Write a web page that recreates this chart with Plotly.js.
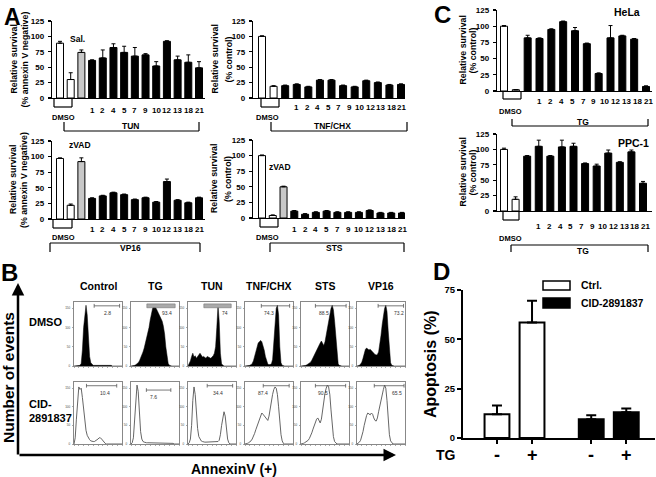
<!DOCTYPE html>
<html><head><meta charset="utf-8">
<script src="https://cdn.plot.ly/plotly-3.0.1.min.js"></script>
<style>html,body{margin:0;padding:0;background:#fff}#chart{width:656px;height:477px}</style>
</head><body><div id="chart"></div>
<script>
// ================= DATA =================
// Panel A / C: compound numbers under the bars
const compoundLabels = ['1','2','4','5','7','9','10','12','13','18','21'];
// Panel A (relative survival, %)
const tunValues  = [89,30,74,61,65,82,74,68,70,52,92,62,58,49];
const tunErrors  = [3,11,4,1,13,6,10,14,2,7,1,6,12,10];
const tnfValues  = [100,19,20,22,18,29,29,20,18,28,25,21,22];
const tnfErrors  = [1,1,1,1,1,1,1,1,1,1,1,1,1];
const vp16Values = [97,22,92,33,37,42,39,31,34,27,60,30,26,34];
const vp16Errors = [1,2,6,1,1,1,1,1,1,1,4,1,1,1];
const stsValues  = [100,4,50,11,6,9,11,9,9,9,12,8,8,8];
const stsErrors  = [1,1,1,1,1,1,1,1,1,1,1,1,1,1];
// Panel C
const helaValues = [100,2,82,81,95,107,93,73,27,82,85,80,7];
const helaErrors = [1,0,4,1,1,1,5,1,1,19,1,1,1];
const ppcValues  = [100,19,89,105,89,104,105,77,73,94,79,96,45];
const ppcErrors  = [2,4,1,10,1,11,5,1,3,5,1,3,3];
// Panel B: flow cytometry (AnnexinV histograms, relative counts, 41 bins)
const bTreatments = ['Control','TG','TUN','TNF/CHX','STS','VP16'];
const dmsoPercent = [2.8, 93.4, 74, 74.3, 88.5, 73.2];
const cidPercent  = [10.4, 7.6, 34.4, 87.4, 90.5, 65.5];
const histDmsoControl = [0,0,0,0,0,1,4,25,60,85,95,80,45,15,5,2,1,1,1,1,1,1,1,2,2,2,1,1,1,1,1,1,0,0,0,0,0,0,0,0,0];
const histDmsoTG      = [0,0,0,1,2,3,5,8,12,17,22,28,35,42,50,60,72,82,90,95,93,90,86,82,80,75,70,62,50,30,12,4,1,0,0,0,0,0,0,0,0];
const histDmsoTUN     = [0,3,8,15,20,14,16,12,15,18,20,17,14,15,13,12,15,14,13,12,14,16,20,30,60,95,70,20,3,1,0,0,0,0,0,0,0,0,0,0,0];
const histDmsoTNF     = [0,0,0,0,1,2,4,8,15,25,32,36,38,40,38,33,25,15,7,3,2,2,3,10,35,70,90,95,80,30,5,1,0,0,0,0,0,0,0,0,0];
const histDmsoSTS     = [0,0,0,0,1,2,3,4,6,9,13,17,22,25,28,32,36,39,34,32,38,48,60,72,82,90,95,88,70,45,15,3,1,0,0,0,0,0,0,0,0];
const histDmsoVP16    = [0,0,1,3,6,12,20,26,28,27,25,26,24,21,19,18,17,18,22,32,48,65,80,90,95,85,55,20,5,1,0,0,0,0,0,0,0,0,0,0,0];
const histCidControl  = [0,10,40,75,92,88,90,75,55,35,22,14,10,7,5,4,4,4,5,6,8,10,10,8,5,2,1,0,0,0,0,0,0,0,0,0,0,0,0,0,0];
const histCidTG       = [0,2,10,40,80,95,85,50,20,8,4,3,2,2,2,2,2,2,2,2,2,2,2,2,2,2,2,2,2,2,2,1,1,1,1,1,0,0,0,0,0];
const histCidTUN      = [0,2,8,30,70,92,80,50,25,12,7,5,4,3,3,3,3,3,3,3,3,3,3,3,3,4,6,15,30,45,52,45,25,8,2,0,0,0,0,0,0];
const histCidTNF      = [0,0,1,2,3,5,8,12,17,23,29,35,41,46,50,48,45,42,40,38,45,58,70,80,88,92,90,80,60,35,15,5,1,0,0,0,0,0,0,0,0];
const histCidSTS      = [0,0,1,2,3,4,6,9,13,18,24,30,36,40,42,38,34,40,55,70,82,90,95,92,80,55,30,12,4,1,0,0,0,0,0,0,0,0,0,0,0];
const histCidVP16     = [0,1,3,6,12,20,30,40,46,50,48,47,50,48,42,38,37,42,52,62,72,80,88,95,90,70,40,15,5,2,0,0,0,0,0,0,0,0,0,0,0];
// Panel D: apoptosis (%)
const tgLabels = ['-','+'];
const dSeriesNames = ['Ctrl.','CID-2891837'];
const ctrlApoptosis = [12, 58.5];
const ctrlErrors    = [4.5, 11];
const cidApoptosis  = [9.5, 13];
const cidErrors     = [2, 2];

// ================= HELPERS =================
const W=656,H=477;
const F='Liberation Sans, Arial, Helvetica, sans-serif';
const fx=p=>p/W, fy=p=>1-p/H;
const layout={width:W,height:H,margin:{l:0,r:0,t:0,b:0},paper_bgcolor:'#fff',plot_bgcolor:'rgba(0,0,0,0)',showlegend:false,font:{family:F,color:'#000'}};
const traces=[], annotations=[], shapes=[];
let axN=0;
function addAxes(x0,x1,yt,yb,xo,yo){
  axN++; const s=axN===1?'':String(axN);
  layout['xaxis'+s]=Object.assign({domain:[fx(x0),fx(x1)],anchor:'y'+s,fixedrange:true,showgrid:false,zeroline:false},xo);
  layout['yaxis'+s]=Object.assign({domain:[fy(yb),fy(yt)],anchor:'x'+s,fixedrange:true,showgrid:false,zeroline:false},yo);
  return {x:'x'+s,y:'y'+s};
}
function txt(x,y,t,size,o={}){annotations.push(Object.assign({xref:'paper',yref:'paper',x:fx(x),y:fy(y),text:'<b>'+t+'</b>',showarrow:false,font:{family:F,size:size,color:'#000'},xanchor:'center',yanchor:'middle'},o));}
function seg(x0,y0,x1,y1,w){shapes.push({type:'line',xref:'paper',yref:'paper',x0:fx(x0),y0:fy(y0),x1:fx(x1),y1:fy(y1),line:{color:'#000',width:w||1.2}});}
function cup(xa,xb,yt,yb){seg(xa,yt,xa,yb);seg(xa,yb,xb,yb);seg(xb,yb,xb,yt);}
function capB(xa,xb,yt,yb){seg(xa,yb,xa,yt);seg(xa,yt,xb,yt);seg(xb,yt,xb,yb);}

// ================= PANEL A / C bars =================
function barPanel(vals,errs,o){
  const n=vals.length, unit=(o.last-o.first)/(n-1);
  const range=[-(o.first-o.x0)/unit,(n-1)+(o.x1-o.last)/unit];
  const ax=addAxes(o.x0,o.x1,o.yt,o.yb,
    {range:range,showline:true,linewidth:1.3,linecolor:'#000',showticklabels:false,ticks:''},
    {range:[0,125],tickvals:[0,25,50,75,100,125],ticks:'outside',ticklen:3,tickwidth:1.3,tickcolor:'#000',showline:true,linewidth:1.3,linecolor:'#000',tickfont:{family:F,size:8,color:'#000',weight:'bold'},ticklabelstandoff:2});
  const colors=vals.map((v,i)=>i<2?'#fff':(i===2&&o.gray)?'#c8c8c8':'#000');
  traces.push({type:'bar',x:vals.map((v,i)=>i),y:vals,width:7/unit,
    marker:{color:colors,line:{color:'#000',width:1}},
    error_y:{type:'data',symmetric:false,array:errs,arrayminus:errs.map(()=>0),color:'#000',thickness:1,width:2},
    xaxis:ax.x,yaxis:ax.y,hoverinfo:'skip'});
  const m=compoundLabels.length;
  compoundLabels.forEach((t,k)=>{
    annotations.push({xref:ax.x,yref:'paper',x:o.lf+k*(o.ll-o.lf)/(m-1),y:fy(o.labY),text:'<b>'+t+'</b>',showarrow:false,font:{family:F,size:8,color:'#000'},xanchor:'center',yanchor:'middle'});
  });
  // y titles
  txt(o.tx1,(o.yt+o.yb)/2,'Relative survival',8.8,{textangle:-90});
  txt(o.tx2,(o.yt+o.yb)/2,o.sub,8.8,{textangle:-90});
}
barPanel(tunValues,tunErrors,{x0:52,x1:205,yt:21,yb:98,first:60,last:199,gray:true,lf:3,ll:13,labY:110,tx1:13,tx2:24,sub:'(% annexin V negative)'});
cup(54,72,98,107); txt(63,118,'DMSO',7.5); cup(64,199,122,131); txt(130,126,'TUN',8.5); txt(77,39,'Sal.',8.5);
barPanel(tnfValues,tnfErrors,{x0:253,x1:405,yt:21,yb:98,first:262,last:401,gray:false,lf:3,ll:12.06,labY:108,tx1:214,tx2:228,sub:'(% control)'});
cup(261,279,98,107); txt(267,118,'DMSO',7.5); cup(271,407,122,131); txt(332,126,'TNF/CHX',8.5);
barPanel(vp16Values,vp16Errors,{x0:52,x1:205,yt:141,yb:219,first:60,last:199,gray:true,lf:3,ll:13,labY:230,tx1:13,tx2:24,sub:'(% annexin V negative)'});
cup(53,72,219,228); txt(63,237,'DMSO',7.5); capB(50,200,243,252); txt(130,248,'VP16',8.5); txt(80,145,'zVAD',8.5);
barPanel(stsValues,stsErrors,{x0:253,x1:405,yt:140,yb:218,first:262,last:402,gray:true,lf:3,ll:13,labY:229,tx1:214,tx2:228,sub:'(% control)'});
cup(260,278,218,227); txt(267,237,'DMSO',7.5); capB(270,404,243,252); txt(335,248,'STS',8.5); txt(280,167,'zVAD',8.5);
barPanel(helaValues,helaErrors,{x0:497,x1:652,yt:10,yb:91,first:504,last:646,gray:false,lf:3,ll:12.2,labY:101,tx1:462,tx2:472,sub:'(% control)'});
cup(503,521,91,99); txt(510,112,'DMSO',7.5); cup(512,648,119,126); txt(583,122,'TG',8.5); txt(627,12,'HeLa',10.5);
barPanel(ppcValues,ppcErrors,{x0:497,x1:652,yt:134,yb:211,first:504,last:643,gray:false,lf:3,ll:12.2,labY:227,tx1:462,tx2:472,sub:'(% control)'});
cup(503,519,211,220); txt(510,238,'DMSO',7.5); capB(511,648,245,252); txt(583,251,'TG',8.5); txt(633,143,'PPC-1',10.5);

// ================= PANEL B histograms =================
const binX=histDmsoControl.map((v,i)=>i/40);
const dmsoHists=[histDmsoControl,histDmsoTG,histDmsoTUN,histDmsoTNF,histDmsoSTS,histDmsoVP16];
const cidHists=[histCidControl,histCidTG,histCidTUN,histCidTNF,histCidSTS,histCidVP16];
const boxLeft=[74,131,188,245,301,357], boxW=48;
const gateTop=[[0.42,0.95,0.69],[0.33,0.92,0.74],[0.33,0.90,0.78],[0.34,0.93,0.49],[0.30,0.94,0.48],[0.44,0.97,0.88]];
const gateBot=[[0.26,0.89,0.65],[0.32,0.83,0.46],[0.40,0.93,0.62],[0.38,0.92,0.38],[0.30,0.93,0.45],[0.36,0.98,0.83]];
function histPanel(h,x0,yt,yb,filled,pct,gate,gy,grayBar){
  const ax=addAxes(x0,x0+boxW,yt,yb,
    {range:[0,1],showline:true,mirror:true,linewidth:0.7,linecolor:'#555',ticks:'outside',ticklen:1.5,tickwidth:0.5,tickcolor:'#555',dtick:0.1,showticklabels:false},
    {range:[0,100],showline:true,mirror:true,linewidth:0.7,linecolor:'#555',ticks:'outside',ticklen:1.5,tickwidth:0.5,tickcolor:'#555',tickvals:[0,30,60,90],ticktext:['0','50','100','150'],tickfont:{family:F,size:3,color:'#444'},ticklabelstandoff:1});
  traces.push({type:'scatter',mode:'lines',x:binX,y:h,fill:filled?'tozeroy':'none',fillcolor:'#000',line:{color:filled?'#000':'#555',width:filled?0.5:0.9},xaxis:ax.x,yaxis:ax.y,hoverinfo:'skip'});
  if(grayBar){
    shapes.push({type:'rect',xref:ax.x,yref:ax.y,x0:gate[0],x1:gate[1],y0:gy-3,y1:gy+3,fillcolor:'#aaa',line:{color:'#777',width:0.6}});
  } else {
    shapes.push({type:'line',xref:ax.x,yref:ax.y,x0:gate[0],x1:gate[1],y0:gy,y1:gy,line:{color:'#555',width:0.8}});
    shapes.push({type:'line',xref:ax.x,yref:ax.y,x0:gate[0],x1:gate[0],y0:gy-3,y1:gy+3,line:{color:'#555',width:0.8}});
    shapes.push({type:'line',xref:ax.x,yref:ax.y,x0:gate[1],x1:gate[1],y0:gy-3,y1:gy+3,line:{color:'#555',width:0.8}});
  }
  annotations.push({xref:ax.x,yref:ax.y,x:gate[2],y:gy-11,text:String(pct),showarrow:false,font:{family:F,size:5,color:'#333'},xanchor:'center',yanchor:'middle'});
}
bTreatments.forEach((t,i)=>{
  txt(boxLeft[i]+boxW/2,286,t,10.5);
  histPanel(dmsoHists[i],boxLeft[i],302,366,true,dmsoPercent[i],gateTop[i],94,(i===1||i===2));
  histPanel(cidHists[i],boxLeft[i],382,444,false,cidPercent[i],gateBot[i],i===1?87:94,false);
});
txt(27,322,'DMSO',11,{xanchor:'left'});
txt(27,411,'CID-<br><b>2891837</b>',11,{xanchor:'left',align:'left'});
txt(8,378,'Number of events',15.5,{textangle:-90});
txt(234,469,'AnnexinV (+)',14);
annotations.push({xref:'paper',yref:'paper',x:fx(18),y:fy(283),ax:0,ay:173,axref:'pixel',ayref:'pixel',text:'',showarrow:true,arrowhead:2,arrowsize:1,arrowwidth:2.5,arrowcolor:'#000'});
annotations.push({xref:'paper',yref:'paper',x:fx(396),y:fy(455),ax:-378,ay:0,axref:'pixel',ayref:'pixel',text:'',showarrow:true,arrowhead:2,arrowsize:1,arrowwidth:2.5,arrowcolor:'#000'});

// ================= PANEL D =================
const groupOffset=2.69;
const dAx=addAxes(463,655,290,438,
  {range:[-0.97,4.51],showline:true,linewidth:2,linecolor:'#000',ticks:'outside',ticklen:4,tickwidth:2,tickcolor:'#000',tickvals:[0,1,groupOffset,groupOffset+1],showticklabels:false},
  {range:[0,75],tickvals:[0,25,50,75],ticks:'outside',ticklen:4,tickwidth:2,tickcolor:'#000',showline:true,linewidth:2,linecolor:'#000',tickfont:{family:F,size:9.5,color:'#000',weight:'bold'}});
[[ctrlApoptosis,ctrlErrors,'#fff'],[cidApoptosis,cidErrors,'#000']].forEach((s,g)=>{
  traces.push({type:'bar',name:dSeriesNames[g],x:s[0].map((v,i)=>g*groupOffset+i),y:s[0],width:0.71,
    marker:{color:s[2],line:{color:'#000',width:2}},
    error_y:{type:'data',symmetric:false,array:s[1],arrayminus:s[1].map(()=>0),color:'#000',thickness:2,width:5},
    xaxis:dAx.x,yaxis:dAx.y,hoverinfo:'skip'});
  tgLabels.forEach((t,i)=>annotations.push({xref:dAx.x,yref:'paper',x:g*groupOffset+i,y:fy(455),text:'<b>'+t+'</b>',showarrow:false,font:{family:F,size:18,color:'#000'},xanchor:'center',yanchor:'middle'}));
});
txt(446,455,'TG',14);
txt(430,364,'Apoptosis (%)',16,{textangle:-90});
shapes.push({type:'rect',xref:'paper',yref:'paper',x0:fx(543),x1:fx(570),y0:fy(290),y1:fy(281),fillcolor:'#fff',line:{color:'#000',width:1.5}});
shapes.push({type:'rect',xref:'paper',yref:'paper',x0:fx(543),x1:fx(570),y0:fy(308),y1:fy(298),fillcolor:'#000',line:{color:'#000',width:1.5}});
txt(579,285,dSeriesNames[0],10.5,{xanchor:'left'});
txt(579,303,dSeriesNames[1],10.5,{xanchor:'left'});

// panel letters
txt(12,2,'A',23,{yanchor:'top'}); txt(9,272,'B',24); txt(442,15,'C',24); txt(441,271,'D',24);

layout.annotations=annotations; layout.shapes=shapes;
Plotly.newPlot('chart',traces,layout,{staticPlot:true,displayModeBar:false});
</script></body></html>
